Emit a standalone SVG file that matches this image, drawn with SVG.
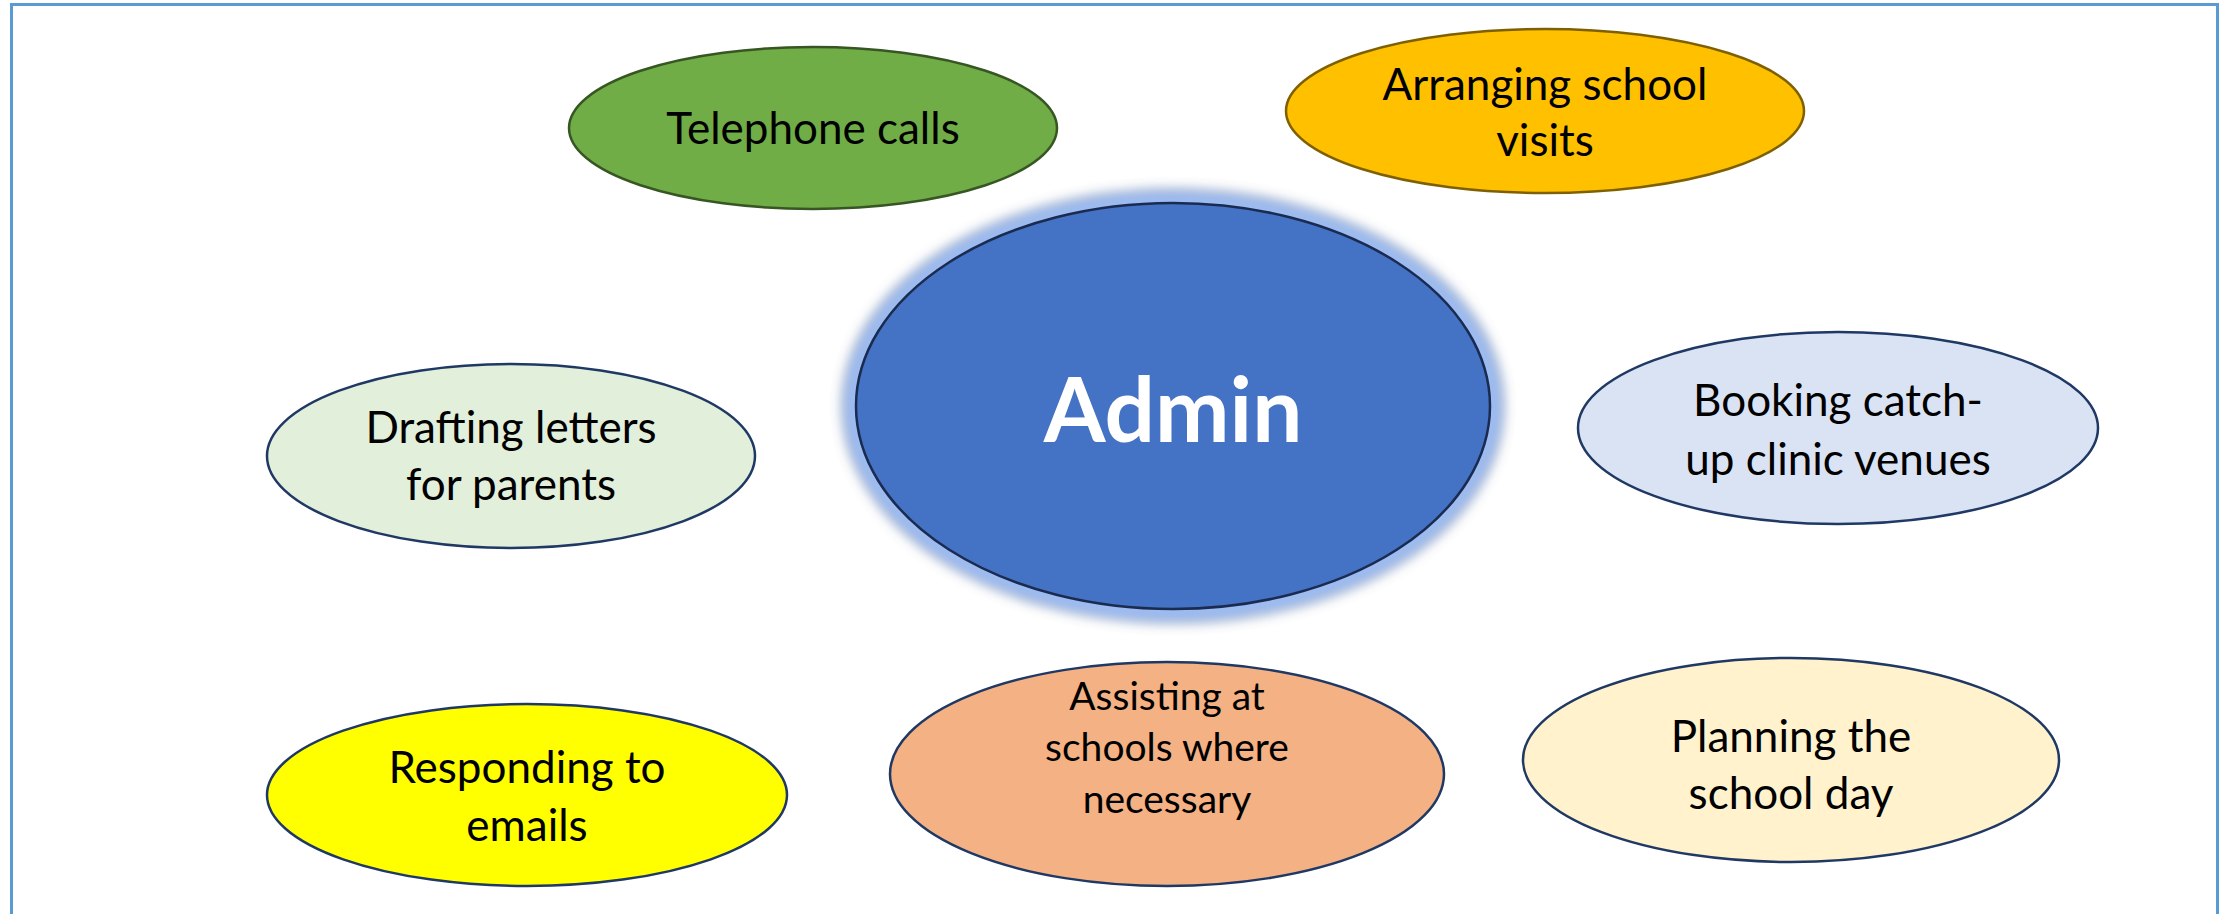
<svg xmlns="http://www.w3.org/2000/svg" width="2229" height="914" viewBox="0 0 2229 914">
<style>
.node ellipse{stroke:#1F3864;stroke-width:2.5}
.lbl{font-family:Lato,"Liberation Sans",sans-serif;font-size:44px;fill:#000;text-anchor:middle}
.sm{font-size:39px}
.big{font-family:Lato,"Liberation Sans",sans-serif;font-size:89px;font-weight:bold;fill:#fff;text-anchor:middle}
</style>
<defs>
<filter id="glow" x="-20%" y="-20%" width="140%" height="140%">
<feGaussianBlur stdDeviation="6"/>
</filter>
</defs>
<rect x="0" y="0" width="2229" height="914" fill="#fff"/>
<rect x="11.5" y="4.5" width="2206" height="930" fill="none" stroke="#5B9BD5" stroke-width="3"/>
<g id="connectors"></g>
<g id="admin" class="node">
<ellipse cx="1173" cy="406" rx="329" ry="215" fill="#9DBDF5" stroke="none" filter="url(#glow)"/>
<ellipse cx="1173" cy="406" rx="317" ry="203" fill="#4472C4" style="stroke:#1B2B4F"/>
<text class="big" x="1173" y="442">Admin</text>
</g>
<g id="telephone" class="node">
<ellipse cx="813" cy="128" rx="244" ry="81" fill="#70AD47" style="stroke:#375623"/>
<text class="lbl" x="813" y="144">Telephone calls</text>
</g>
<g id="arranging" class="node">
<ellipse cx="1545" cy="111" rx="259" ry="82" fill="#FFC000" style="stroke:#7F6000"/>
<text class="lbl" x="1545" y="100">Arranging school</text>
<text class="lbl" x="1545" y="156">visits</text>
</g>
<g id="drafting" class="node">
<ellipse cx="511" cy="456" rx="244" ry="92" fill="#E2EFDA"/>
<text class="lbl" x="511" y="443">Drafting letters</text>
<text class="lbl" x="511" y="500">for parents</text>
</g>
<g id="booking" class="node">
<ellipse cx="1838" cy="428" rx="260" ry="96" fill="#DAE3F3"/>
<text class="lbl" x="1838" y="416">Booking catch-</text>
<text class="lbl" x="1838" y="475">up clinic venues</text>
</g>
<g id="responding" class="node">
<ellipse cx="527" cy="795" rx="260" ry="91" fill="#FFFF00"/>
<text class="lbl" x="527" y="783">Responding to</text>
<text class="lbl" x="527" y="841">emails</text>
</g>
<g id="assisting" class="node">
<ellipse cx="1167" cy="774" rx="277" ry="112" fill="#F4B183"/>
<text class="lbl sm" x="1167" y="710">Assisting at</text>
<text class="lbl sm" x="1167" y="761">schools where</text>
<text class="lbl sm" x="1167" y="813">necessary</text>
</g>
<g id="planning" class="node">
<ellipse cx="1791" cy="760" rx="268" ry="102" fill="#FFF2CC"/>
<text class="lbl" x="1791" y="752">Planning the</text>
<text class="lbl" x="1791" y="809">school day</text>
</g>
</svg>
